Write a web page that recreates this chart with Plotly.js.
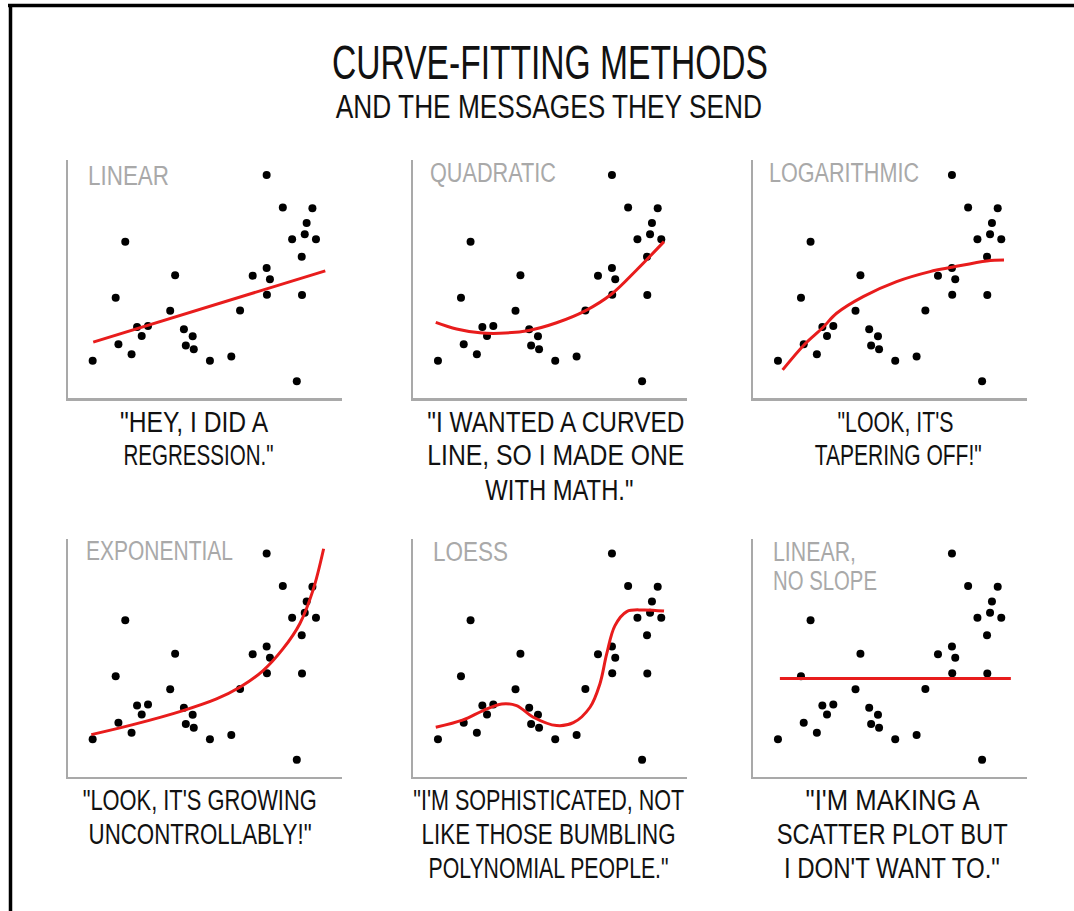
<!DOCTYPE html>
<html>
<head>
<meta charset="utf-8">
<script src="https://cdn.plot.ly/plotly-3.0.1.min.js"></script>
<style>
html,body{margin:0;padding:0;background:#ffffff;}
#chart{width:1074px;height:911px;}
</style>
</head>
<body>
<div id="chart"></div>
<script>
// ---------- DATA ----------
const chartTitle = "CURVE-FITTING METHODS";
const chartSubtitle = "AND THE MESSAGES THEY SEND";

const pointX = [9.0,17.4,18.4,20.9,23.2,25.2,26.9,29.2,37.3,39.1,42.3,45.5,43.0,45.9,51.8,59.6,62.8,67.4,72.5,72.5,73.7,72.6,78.4,81.8,83.5,85.3,85.4,86.4,87.1,89.2,90.5];
const pointY = [15.7,42.1,22.6,65.7,18.4,29.8,26.1,30.3,36.7,51.6,28.9,25.9,22.1,20.5,15.7,17.4,36.8,51.4,93.7,54.6,49.9,43.4,80.0,66.7,7.0,59.4,43.3,68.8,73.5,79.7,66.7];

const linearFitX = [9.2, 93.9];
const linearFitY = [23.5, 53.4];

const quadFitX = [8.2,15.8,24.3,31.6,42.2,52.3,62.7,72.4,81.5,91.5];
const quadFitY = [31.8,29.0,27.4,27.2,28.4,31.6,36.6,43.7,53.8,65.7];

const logFitX = [10.7,18.5,25.3,30.4,40.1,52.3,64.5,72.4,85.2,91.5];
const logFitY = [11.8,22.3,29.5,35.6,42.6,48.9,53.1,54.9,57.6,58.0];

const expFitX = [8.5,23.7,42.0,54.2,62.7,71.2,78.5,84.6,89.4,93.3];
const expFitY = [17.6,21.8,27.7,32.6,37.5,44.5,53.7,64.2,78.2,95.7];

const loessFitX = [8.2,18.2,25.5,32.3,37.7,43.8,52.3,58.4,64.5,68.1,70.6,73.6,77.9,83.9,91.5];
const loessFitY = [20.7,23.8,27.7,30.5,29.8,24.9,21.4,22.6,29.1,38.9,51.6,63.4,69.3,70.0,69.5];

const flatFitX = [9.7, 94.0];
const flatFitY = [41.2, 41.2];

const panelLabels = [["LINEAR"],["QUADRATIC"],["LOGARITHMIC"],["EXPONENTIAL"],["LOESS"],["LINEAR,","NO SLOPE"]];
const panelCaptions = [
  ['"HEY, I DID A','REGRESSION."'],
  ['"I WANTED A CURVED','LINE, SO I MADE ONE','WITH MATH."'],
  ["\"LOOK, IT'S","TAPERING OFF!\""],
  ["\"LOOK, IT'S GROWING","UNCONTROLLABLY!\""],
  ["\"I'M SOPHISTICATED, NOT","LIKE THOSE BUMBLING","POLYNOMIAL PEOPLE.\""],
  ["\"I'M MAKING A","SCATTER PLOT BUT","I DON'T WANT TO.\""]
];

// ---------- LAYOUT / STYLE ----------
const W = 1074, H = 911;
const colDomains = [[68/W, 342/W], [413.3/W, 687.3/W], [753.3/W, 1027.3/W]];
const rowDomains = [[(H-398)/H, (H-160)/H], [(H-776.5)/H, (H-538.5)/H]];

const fits = [
  [linearFitX, linearFitY, 'linear'],
  [quadFitX, quadFitY, 'spline'],
  [logFitX, logFitY, 'spline'],
  [expFitX, expFitY, 'spline'],
  [loessFitX, loessFitY, 'spline'],
  [flatFitX, flatFitY, 'linear']
];

// label placement (left px, centre-y px, width px) per line
const labelPos = [
  [[87,175.5,81]], [[429,173,126]], [[768,173,150]],
  [[85,550.5,147]], [[432,552,75]], [[772,552,83],[772,580.5,104]]
];
// caption placement (centre-x px, width px) per line; rows of lines at fixed spacing
const captionTopY = [421, 421, 421, 799, 799, 799];
const captionStep = 34;
const captionPos = [
  [[194,148],[198,150]],
  [[556,257],[556,257],[559,148]],
  [[895,116],[898,167]],
  [[199,234],[200,223]],
  [[549,271],[548,254],[548,240]],
  [[892,174],[892,231],[892,216]]
];

const RED = 'rgb(232,28,28)';
const GRAY = '#a9a9a9';
const FONT = 'Liberation Sans, Arial, sans-serif';

const traces = [];
const layout = {
  width: W, height: H,
  margin: {l:0, r:0, t:0, b:0, pad:0},
  paper_bgcolor: '#ffffff', plot_bgcolor: 'rgba(0,0,0,0)',
  showlegend: false,
  font: {family: FONT, color: '#111111'},
  title: {
    text: chartTitle,
    x: 550/W, xanchor: 'center', xref: 'paper',
    y: (H-62)/H, yanchor: 'middle', yref: 'container',
    font: {family: FONT, size: 49, color: '#111111'}
  },
  annotations: [],
  shapes: [
    {type:'line', xref:'paper', yref:'paper', x0: 8/W, x1: 1, y0: (H-5.5)/H, y1: (H-5.5)/H, line:{color:'#000000', width:3.5}},
    {type:'line', xref:'paper', yref:'paper', x0: 10.5/W, x1: 10.5/W, y0: 0, y1: (H-4)/H, line:{color:'#000000', width:3.5}}
  ]
};

const textFits = []; // width per annotation index

function addText(text, xpx, ypx, w, size, color, anchor) {
  layout.annotations.push({
    text: text, xref: 'paper', yref: 'paper',
    x: xpx / W, y: (H - ypx) / H,
    xanchor: anchor, yanchor: 'middle', align: anchor === 'left' ? 'left' : 'center',
    showarrow: false, borderpad: 0,
    font: {family: FONT, size: size, color: color}
  });
  textFits.push(w);
}

addText(chartSubtitle, 549, 106, 426, 34, '#111111', 'center');

for (let i = 0; i < 6; i++) {
  const n = i + 1;
  const sfx = n === 1 ? '' : String(n);
  const col = i % 3, row = Math.floor(i / 3);
  const axCommon = {
    range: [0, 100], showline: true, linecolor: GRAY, linewidth: 2.5,
    showgrid: false, zeroline: false, showticklabels: false, ticks: '',
    fixedrange: true, mirror: false
  };
  layout['xaxis' + sfx] = Object.assign({}, axCommon, {domain: colDomains[col], anchor: 'y' + sfx});
  layout['yaxis' + sfx] = Object.assign({}, axCommon, {domain: rowDomains[row], anchor: 'x' + sfx});

  traces.push({
    type: 'scatter', mode: 'markers', x: pointX, y: pointY,
    xaxis: 'x' + sfx, yaxis: 'y' + sfx,
    marker: {color: '#000000', size: 8, line: {width: 0}},
    hoverinfo: 'skip', cliponaxis: false
  });
  traces.push({
    type: 'scatter', mode: 'lines', x: fits[i][0], y: fits[i][1],
    xaxis: 'x' + sfx, yaxis: 'y' + sfx,
    line: {color: RED, width: 3, shape: fits[i][2], smoothing: 1},
    hoverinfo: 'skip', cliponaxis: false
  });

  panelLabels[i].forEach((t, j) => {
    const p = labelPos[i][j];
    addText(t, p[0], p[1], p[2], 27, GRAY, 'left');
  });
  panelCaptions[i].forEach((t, j) => {
    const p = captionPos[i][j];
    addText(t, p[0], captionTopY[i] + j * captionStep, p[1], 30, '#111111', 'center');
  });
}

Plotly.newPlot('chart', traces, layout, {staticPlot: true, displayModeBar: false}).then(gd => {
  textFits.forEach((w, i) => {
    const t = gd.querySelector('g.annotation[data-index="' + i + '"] text.annotation-text');
    if (t) {
      t.setAttribute('textLength', w);
      t.setAttribute('lengthAdjust', 'spacingAndGlyphs');
    }
  });
  const tt = gd.querySelector('.gtitle');
  if (tt) {
    tt.setAttribute('textLength', 436);
    tt.setAttribute('lengthAdjust', 'spacingAndGlyphs');
  }
});
</script>
</body>
</html>
